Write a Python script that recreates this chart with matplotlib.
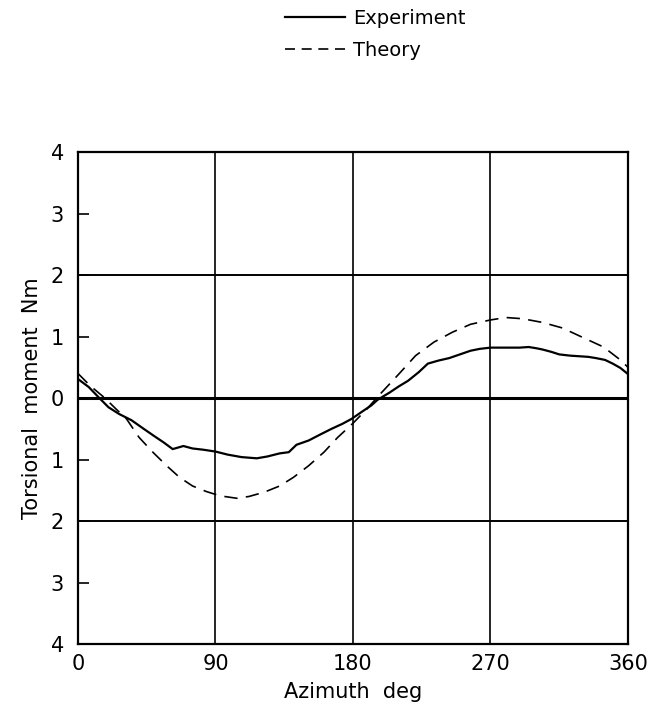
import matplotlib.pyplot as plt

# azimuth (deg) and torsional moment (Nm)
az_exp = [0, 7, 14, 20, 27, 35, 43, 50, 56, 62, 69, 75, 82, 90, 98, 107, 117, 124,
          132, 138, 143, 151, 158, 166, 173, 179, 186, 192, 196, 204, 210, 216, 223,
          229, 236, 243, 250, 257, 263, 270, 276, 282, 289, 295, 300, 304, 310, 315,
          322, 328, 334, 339, 345, 350, 355, 360]
m_exp = [0.31, 0.18, 0.0, -0.15, -0.26, -0.36, -0.50, -0.62, -0.72, -0.83, -0.78,
         -0.82, -0.84, -0.87, -0.92, -0.96, -0.98, -0.95, -0.90, -0.88, -0.76, -0.69,
         -0.60, -0.50, -0.42, -0.34, -0.22, -0.12, -0.03, 0.09, 0.19, 0.28, 0.42,
         0.56, 0.61, 0.65, 0.71, 0.77, 0.80, 0.82, 0.82, 0.82, 0.82, 0.83, 0.81,
         0.79, 0.75, 0.71, 0.69, 0.68, 0.67, 0.65, 0.62, 0.56, 0.49, 0.39]

az_th = [0, 8, 17.6, 25, 31.8, 40, 49, 58, 66.5, 75, 84, 93, 104, 112, 122, 132,
         141, 151, 161, 170, 180, 189, 198, 210, 221, 233, 245, 257, 270, 280, 291,
         304, 317, 330, 344, 355, 360]
m_th = [0.40, 0.20, 0.0, -0.18, -0.34, -0.64, -0.88, -1.10, -1.29, -1.43, -1.52,
        -1.59, -1.63, -1.60, -1.53, -1.43, -1.29, -1.10, -0.88, -0.64, -0.41, -0.18,
        0.07, 0.39, 0.69, 0.91, 1.07, 1.20, 1.27, 1.31, 1.29, 1.23, 1.14, 0.99,
        0.83, 0.62, 0.50]

x_ticks = [0, 90, 180, 270, 360]
y_ticks = [-4, -3, -2, -1, 0, 1, 2, 3, 4]
y_labels = ['4', '3', '2', '1', '0', '1', '2', '3', '4']

fig = plt.figure(figsize=(6.63, 7.14), dpi=100)
ax = fig.add_axes([0.1176, 0.098, 0.8296, 0.689])

# grid
for gx in [90, 180, 270]:
    ax.axvline(gx, color='black', linewidth=1.2, zorder=1)
for gy in [2, -2]:
    ax.axhline(gy, color='black', linewidth=1.4, zorder=1)
ax.axhline(0, color='black', linewidth=2.2, zorder=1)

ax.plot(az_exp, m_exp, color='black', linewidth=1.6, label='Experiment', zorder=3)
ax.plot(az_th, m_th, color='black', linewidth=1.2, linestyle=(0, (8, 5)),
        label='Theory', zorder=3)

ax.set_xlim(0, 360)
ax.set_ylim(-4, 4)
ax.set_xticks(x_ticks)
ax.set_yticks(y_ticks)
ax.set_yticklabels(y_labels)
ax.tick_params(axis='x', length=0, pad=7, labelsize=15)
ax.tick_params(axis='y', direction='in', length=8, width=1.2, pad=10, labelsize=15)
for s in ax.spines.values():
    s.set_linewidth(1.6)

ax.set_xlabel('Azimuth  deg', fontsize=15, labelpad=6)
ax.set_ylabel('Torsional  moment  Nm', fontsize=15, labelpad=6)

leg = ax.legend(loc='upper left', bbox_to_anchor=(0.43, 0.988),
                bbox_transform=fig.transFigure, frameon=False, fontsize=14,
                handlelength=3.1, handletextpad=0.4, labelspacing=0.7,
                borderpad=0, borderaxespad=0)
leg.get_lines()[1].set_linestyle((0, (6, 4)))

plt.savefig('out.png', dpi=100)
